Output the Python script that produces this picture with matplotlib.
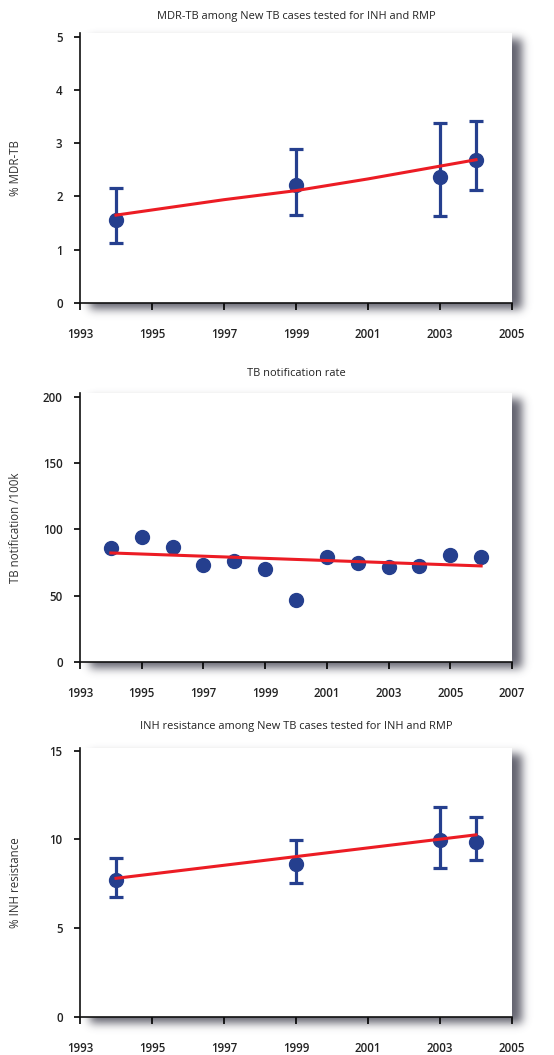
import numpy as np
import matplotlib
matplotlib.use("Agg")
import matplotlib.pyplot as plt

plt.rcParams['font.family'] = ['Open Sans', 'DejaVu Sans']

# MDR-TB among new cases
mdr_years = [1994, 1999, 2003, 2004]
mdr_pct = [1.55, 2.21, 2.37, 2.69]
mdr_low = [1.13, 1.66, 1.64, 2.12]
mdr_high = [2.16, 2.89, 3.38, 3.42]
mdr_trend_years = [1994, 1997, 1999, 2001, 2003, 2004]
mdr_trend = [1.65, 1.94, 2.11, 2.33, 2.57, 2.69]

# TB notification rate per 100k
notif_years = [1994, 1995, 1996, 1997, 1998, 1999, 2000, 2001, 2002, 2003, 2004, 2005, 2006]
notif_rate = [86.3, 94.3, 87.0, 73.5, 76.2, 69.9, 47.0, 79.5, 75.0, 72.0, 72.5, 80.5, 79.5]
notif_trend_years = [1994, 2006]
notif_trend = [82.3, 72.5]

# INH resistance among new cases
inh_years = [1994, 1999, 2003, 2004]
inh_pct = [7.72, 8.60, 9.98, 9.88]
inh_low = [6.74, 7.53, 8.38, 8.83]
inh_high = [8.96, 9.98, 11.82, 11.26]
inh_trend_years = [1994, 2004]
inh_trend = [7.81, 10.26]

NAVY = '#253f8e'
RED = '#ec1c24'
W, H = 554, 1055

fig = plt.figure(figsize=(W / 100, H / 100), dpi=100)

# panel boxes in pixels: x0, x1, y_top(white), y_zero
boxes = [(80, 512, 33, 303), (80, 512, 393, 662), (80, 512, 748, 1017)]

# soft drop shadow behind each plotting panel
mask = np.zeros((H, W))
dx, dy = 10, 6
for x0, x1, yt, yb in boxes:
    mask[yt + dy:yb + dy, x0 + dx:x1 + dx] = 1.0
k = np.exp(-0.5 * (np.arange(-15, 16) / 4.5) ** 2)
k /= k.sum()
mask = np.apply_along_axis(lambda r: np.convolve(r, k, mode='same'), 1, mask)
mask = np.apply_along_axis(lambda c: np.convolve(c, k, mode='same'), 0, mask)
shadow = np.zeros((H, W, 4))
shadow[..., 0] = 0.32
shadow[..., 1] = 0.32
shadow[..., 2] = 0.37
shadow[..., 3] = np.clip(mask * 0.9, 0, 1)
bg = fig.add_axes([0, 0, 1, 1], zorder=-10)
bg.imshow(shadow, extent=(0, W, H, 0), aspect='auto', interpolation='bilinear')
bg.set_xlim(0, W)
bg.set_ylim(H, 0)
bg.axis('off')


def make_axes(box, top_val):
    x0, x1, yt, yb = box
    ax = fig.add_axes([x0 / W, 1 - yb / H, (x1 - x0) / W, (yb - yt) / H])
    ax.set_facecolor('white')
    for s in ['top', 'right']:
        ax.spines[s].set_visible(False)
    for s in ['left', 'bottom']:
        ax.spines[s].set_linewidth(1.2)
        ax.spines[s].set_color('#111111')
    ax.tick_params(axis='y', direction='out', length=4.5, width=1.2, pad=8,
                   labelsize=8.3, labelcolor='#222222')
    ax.tick_params(axis='x', direction='out', length=5, width=1.2, pad=13,
                   labelsize=8.3, labelcolor='#222222')
    ax.set_ylim(0, top_val)
    return ax


def style_ticks(ax):
    for lbl in ax.get_xticklabels() + ax.get_yticklabels():
        lbl.set_fontweight('semibold')


def draw_resistance(ax, years, pct, low, high, ty, tv):
    pct = np.array(pct)
    yerr = [pct - np.array(low), np.array(high) - pct]
    ax.errorbar(years, pct, yerr=yerr, fmt='none', ecolor=NAVY, elinewidth=2.3,
                capsize=5.2, capthick=2.3, zorder=2)
    ax.plot(years, pct, 'o', color=NAVY, markersize=10, zorder=3)
    ax.plot(ty, tv, color=RED, linewidth=2.2, zorder=4)


def finish(ax, ylabel, title, title_y):
    style_ticks(ax)
    ax.set_ylabel(ylabel, fontsize=8.3, color='#333333')
    ax.yaxis.set_label_coords(-0.135, 0.5)
    fig.text(296 / W, 1 - title_y / H, title, ha='center', va='center',
             fontsize=7.95, color='#222222')


# top panel
ax1 = make_axes(boxes[0], 5.07)
draw_resistance(ax1, mdr_years, mdr_pct, mdr_low, mdr_high, mdr_trend_years, mdr_trend)
ax1.set_xlim(1993, 2005)
ax1.set_xticks(range(1993, 2006, 2))
ax1.set_yticks(range(0, 6))
finish(ax1, '% MDR-TB', 'MDR-TB among New TB cases tested for INH and RMP', 16)

# middle panel
ax2 = make_axes(boxes[1], 203)
ax2.plot(notif_years, notif_rate, 'o', color=NAVY, markersize=10, zorder=3)
ax2.plot(notif_trend_years, notif_trend, color=RED, linewidth=2.2, zorder=4)
ax2.set_xlim(1993, 2007)
ax2.set_xticks(range(1993, 2008, 2))
ax2.set_yticks(range(0, 201, 50))
finish(ax2, 'TB notification /100k', 'TB notification rate', 373)

# bottom panel
ax3 = make_axes(boxes[2], 15.15)
draw_resistance(ax3, inh_years, inh_pct, inh_low, inh_high, inh_trend_years, inh_trend)
ax3.set_xlim(1993, 2005)
ax3.set_xticks(range(1993, 2006, 2))
ax3.set_yticks(range(0, 16, 5))
finish(ax3, '% INH resistance',
       'INH resistance among New TB cases tested for INH and RMP', 726)

fig.savefig('out.png', dpi=100, facecolor='white')
